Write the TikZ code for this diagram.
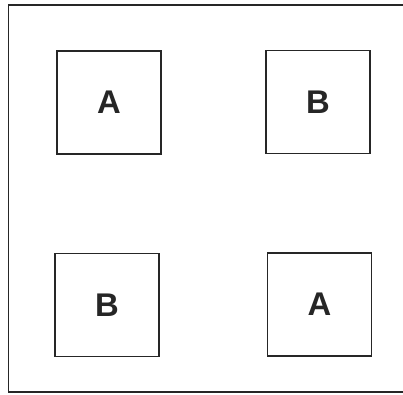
\documentclass[tikz,border=0pt]{standalone}
\usepackage{fontspec}
\setmainfont{Liberation Sans}
\usepackage{tikz}
\usetikzlibrary{positioning}

\begin{document}
\begin{tikzpicture}[
    x=0.03cm, y=-0.03cm,
    frame/.style={line width=1.6pt, black!85},
    cell/.style={draw, line width=1.0pt, black!85, minimum width=3.12cm, minimum height=3.09cm, inner sep=0pt, font=\fontsize{28}{30}\selectfont\bfseries}
]
\useasboundingbox (0,0) rectangle (403,394);

% outer frame, open on the right
\draw[frame] (403,5) -- (8.5,5) -- (8.5,392) -- (403,392);

\node[cell] (topA) at (109,102.5) {A};
\node[cell] (topB) at (318,102) {B};
\node[cell] (botB) at (107,305) {B};
\node[cell] (botA) at (319.5,304.5) {A};

\end{tikzpicture}
\end{document}
